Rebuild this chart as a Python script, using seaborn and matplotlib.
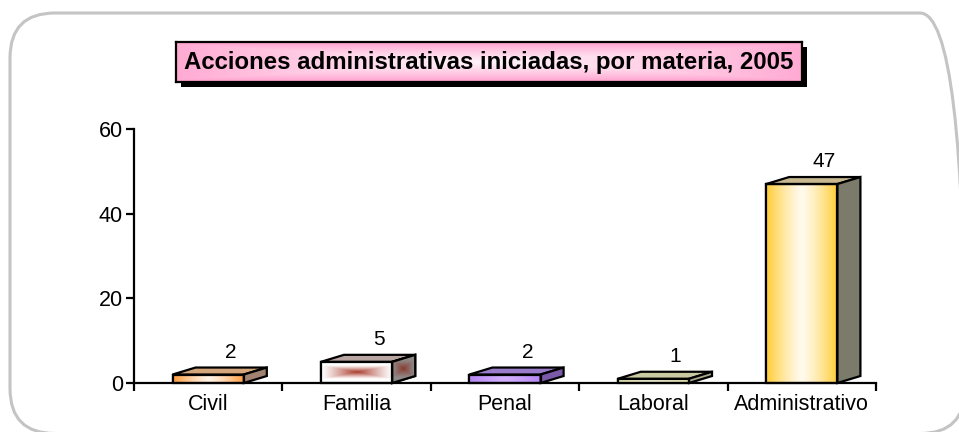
import numpy as np
import matplotlib
matplotlib.use("Agg")
import matplotlib.pyplot as plt
from matplotlib.patches import Polygon, Rectangle, FancyBboxPatch
from matplotlib.colors import to_rgb
import seaborn as sns
import pandas as pd

# ---- data ----
categories = ["Civil", "Familia", "Penal", "Laboral", "Administrativo"]
values = [2, 5, 2, 1, 47]
title = "Acciones administrativas iniciadas, por materia, 2005"
y_ticks = [0, 20, 40, 60]

# ---- styles ----
front_edge = ["#FF9A3A", "#FFFFFF", "#B585F2", "#EEEEB4", "#FFCC33"]
front_mid = ["#FFF2E4", "#A83A2A", "#D2AEFF", "#FAFAE0", "#FFFAEC"]
top_cols = ["#D4A67C", "#B8A4A0", "#9A7CCB", "#C9C9A2", "#C8B890"]
side_cols = ["#A08270", "#8E8A88", "#7A5AA8", "#A8A888", "#7C7A6A"]

sns.set_theme(style="white")
plt.rcParams["font.family"] = ["Liberation Sans", "DejaVu Sans"]

W, H = 959, 432
fig = plt.figure(figsize=(W / 100, H / 100), dpi=100)

# axes position in pixels
ax_l, ax_r, ax_b, ax_t = 134, 876, 383, 129
ax = fig.add_axes([ax_l / W, (H - ax_b) / H, (ax_r - ax_l) / W, (ax_b - ax_t) / H])

df = pd.DataFrame({"cat": categories, "val": values})
sns.barplot(data=df, x="cat", y="val", hue="cat", palette=front_edge, width=0.48,
            legend=False, edgecolor="black", linewidth=1.6, ax=ax, saturation=1)

ax.set_xlim(-0.5, 4.5)
ax.set_ylim(0, 60)

# depth offsets in data units
dx = 23 / ((ax_r - ax_l) / 5)
dy = 7 / ((ax_b - ax_t) / 60)

def hgrad(c_edge, c_mid, n=256):
    e = np.array(to_rgb(c_edge)); m = np.array(to_rgb(c_mid))
    t = np.linspace(-1, 1, n)
    wgt = 1 - np.abs(t) ** 1.3
    row = e[None, :] * (1 - wgt[:, None]) + m[None, :] * wgt[:, None]
    return row[None, :, :]

def cgrad(c_edge, c_mid, n=128):
    e = np.array(to_rgb(c_edge)); m = np.array(to_rgb(c_mid))
    t = np.linspace(-1, 1, n)
    X, Y = np.meshgrid(t, t)
    d = np.maximum(np.abs(X) * 1.0, np.abs(Y) * 1.6)
    wgt = np.clip(1 - d, 0, 1) ** 1.2
    return e[None, None, :] * (1 - wgt[..., None]) + m[None, None, :] * wgt[..., None]

for i, p in enumerate(ax.patches[:len(values)]):
    x0, w, h = p.get_x(), p.get_width(), p.get_height()
    z = p.get_zorder()
    # front gradient
    if i == 1:
        img = cgrad(front_edge[i], front_mid[i])
    else:
        img = hgrad(front_edge[i], front_mid[i])
    im = ax.imshow(img, extent=(x0, x0 + w, 0, h), aspect="auto", zorder=z + 0.1,
                   interpolation="bilinear")
    im.set_clip_path(p)
    ax.add_patch(Rectangle((x0, 0), w, h, fill=False, edgecolor="black",
                           linewidth=1.6, zorder=z + 0.3, clip_on=False))
    # top face
    top = Polygon([(x0, h), (x0 + w, h), (x0 + w + dx, h + dy), (x0 + dx, h + dy)],
                  closed=True, facecolor=top_cols[i], edgecolor="black",
                  linewidth=1.6, zorder=z + 0.2, clip_on=False)
    ax.add_patch(top)
    side = Polygon([(x0 + w, 0), (x0 + w + dx, dy), (x0 + w + dx, h + dy), (x0 + w, h)],
                   closed=True, facecolor=side_cols[i], edgecolor="black",
                   linewidth=1.6, zorder=z + 0.2, clip_on=False)
    ax.add_patch(side)
    if i == 1:
        simg = cgrad(side_cols[i], "#8A3A30")
        sim = ax.imshow(simg, extent=(x0 + w, x0 + w + dx, 0, h + dy), aspect="auto",
                        zorder=z + 0.21, interpolation="bilinear")
        sim.set_clip_path(side)
        ax.add_patch(Polygon(side.get_xy(), closed=True, fill=False, edgecolor="black",
                             linewidth=1.6, zorder=z + 0.3, clip_on=False))
    ax.text(x0 + w / 2 + 0.15, h + dy + 1.4, str(values[i]), ha="center", va="bottom",
            fontsize=15, color="black")

ax.set_xlim(-0.5, 4.5)
ax.set_ylim(0, 60)
ax.set_yticks(y_ticks)
ax.set_xticks(range(len(categories)))
ax.set_xticklabels(categories)
ax.set_xticks(np.arange(-0.5, 4.6, 1.0), minor=True)
ax.tick_params(axis="x", which="major", length=0, pad=8, labelsize=15.5, colors="black")
ax.tick_params(axis="x", which="minor", length=6, width=1.6, direction="out",
               bottom=True, color="black")
ax.tick_params(axis="y", length=6, width=1.6, direction="out", left=True, pad=2,
               labelsize=15.5, colors="black")
ax.set_xlabel("")
ax.set_ylabel("")
for s in ["top", "right"]:
    ax.spines[s].set_visible(False)
for s in ["left", "bottom"]:
    ax.spines[s].set_color("black")
    ax.spines[s].set_linewidth(1.6)
ax.set_facecolor("none")
ax.grid(False)

# figure rounded border (inches)
r = 0.45
bx0, bx1, by0, by1 = 0.10, 9.65, -0.015, 4.19
border = FancyBboxPatch((bx0 + r, by0 + r), (bx1 - bx0) - 2 * r, (by1 - by0) - 2 * r,
                        boxstyle="round,pad=%g" % r, transform=fig.dpi_scale_trans,
                        facecolor="none", edgecolor="#C4C4C4", linewidth=2.2,
                        clip_on=False)
fig.patches.append(border)

# title box
tb_l, tb_r, tb_t, tb_b = 176, 802, 42, 82
sh = 5
shadow = Rectangle(((tb_l + sh) / W, (H - tb_b - sh) / H), (tb_r - tb_l) / W,
                   (tb_b - tb_t) / H, transform=fig.transFigure, facecolor="black",
                   edgecolor="none", zorder=1)
fig.patches.append(shadow)
tax = fig.add_axes([tb_l / W, (H - tb_b) / H, (tb_r - tb_l) / W, (tb_b - tb_t) / H])
tax.set_zorder(5)
pe = np.array(to_rgb("#FF9CCB")); pm = np.array(to_rgb("#FFF4FA"))
t = np.linspace(-1, 1, 200)
X, Y = np.meshgrid(t, np.linspace(-1, 1, 40))
d = np.maximum(np.abs(X) * 0.9, np.abs(Y) * 1.0)
wgt = np.clip(1 - d, 0, 1) ** 0.8
timg = pe[None, None, :] * (1 - wgt[..., None]) + pm[None, None, :] * wgt[..., None]
tax.imshow(timg, extent=(0, 1, 0, 1), aspect="auto", interpolation="bilinear")
tax.set_xlim(0, 1); tax.set_ylim(0, 1)
tax.set_xticks([]); tax.set_yticks([])
for s in tax.spines.values():
    s.set_visible(True); s.set_color("black"); s.set_linewidth(1.6)
tax.text(0.5, 0.48, title, ha="center", va="center", fontsize=17.3,
         fontweight="bold", color="black", transform=tax.transAxes)

fig.savefig("out.png", dpi=100, facecolor="white")
